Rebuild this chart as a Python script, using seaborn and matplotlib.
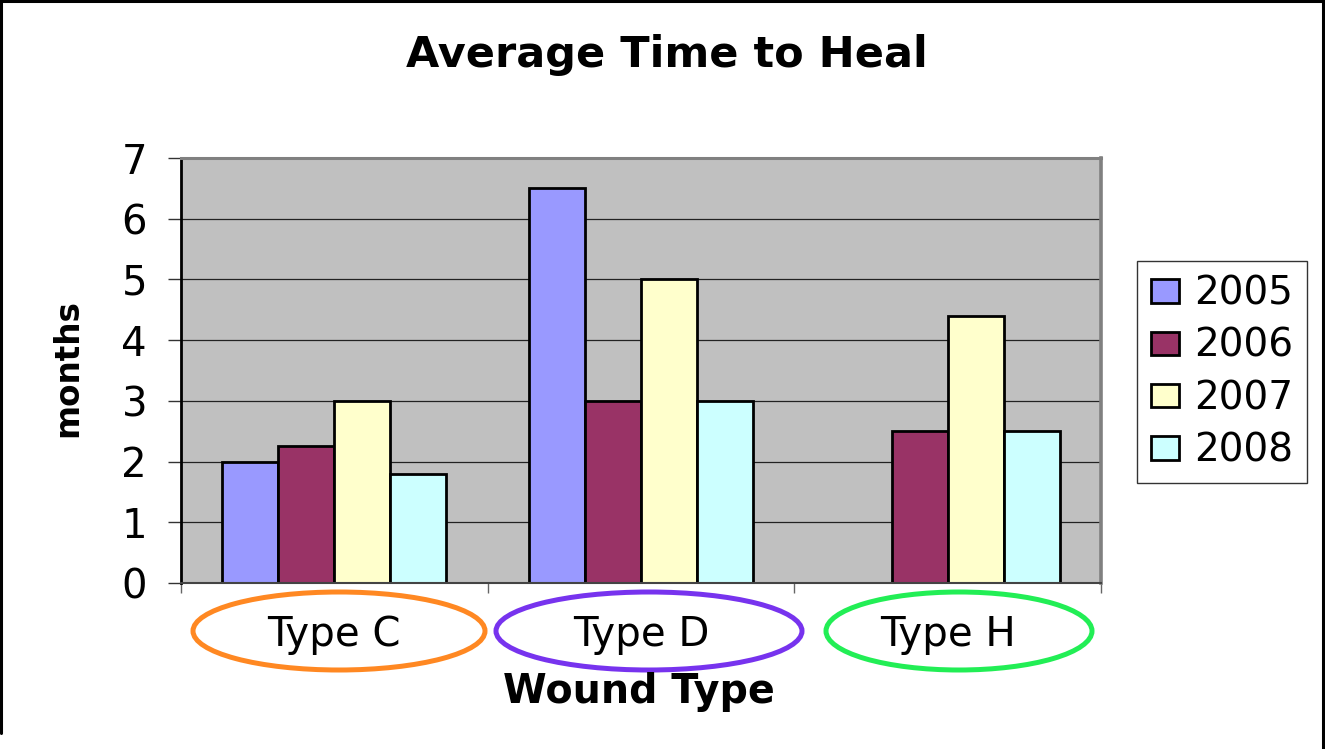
#!/usr/bin/env python3
import numpy as np
import pandas as pd
import matplotlib
matplotlib.use("Agg")
import matplotlib.pyplot as plt
from matplotlib.patches import Ellipse
from matplotlib.lines import Line2D
import seaborn as sns

# chart data
wound_types = ["Type C", "Type D", "Type H"]
years = ["2005", "2006", "2007", "2008"]
heal_2005 = [2.0, 6.5, np.nan]   # no 2005 bar for Type H
heal_2006 = [2.25, 3.0, 2.5]
heal_2007 = [3.0, 5.0, 4.4]
heal_2008 = [1.8, 3.0, 2.5]
year_colors = ["#9999FF", "#993366", "#FFFFCC", "#CCFFFF"]

# circles drawn round the category labels (pixel centre x, width, colour)
label_rings = [(339, 292, "#FF8822"), (649, 306, "#7733EE"), (959, 266, "#22EE55")]

rows = []
for yr, vals in zip(years, [heal_2005, heal_2006, heal_2007, heal_2008]):
    for wt, v in zip(wound_types, vals):
        rows.append({"wound": wt, "year": yr, "months": v})
df = pd.DataFrame(rows).dropna()

W, H = 1325, 749
sns.set_style("white")
plt.rcParams["font.family"] = ["DejaVu Sans"]
plt.rcParams["text.color"] = "black"
plt.rcParams["xtick.color"] = "black"
plt.rcParams["ytick.color"] = "black"
plt.rcParams["xtick.labelcolor"] = "black"
plt.rcParams["ytick.labelcolor"] = "black"

fig = plt.figure(figsize=(W / 100, H / 100), dpi=100)
ax = fig.add_axes([181 / W, 166 / H, 920 / W, 425 / H])
ax.set_facecolor("#C0C0C0")

sns.barplot(data=df, x="wound", y="months", hue="year", order=wound_types,
            hue_order=years, palette=year_colors, width=0.73, saturation=1,
            edgecolor="black", linewidth=2, errorbar=None, ax=ax)

ax.set_xlim(-0.5, 2.5)
ax.set_ylim(0, 7)
ax.set_yticks(range(8))
ax.yaxis.grid(True, color="#222222", linewidth=0.9)
ax.set_axisbelow(True)
ax.set_xlabel("")
ax.set_ylabel("")

ax.tick_params(axis="y", labelsize=29, length=9.4, width=1, color="#333333",
               labelcolor="black", pad=15, left=True, direction="out")
ax.tick_params(axis="x", which="major", labelsize=29, length=0, pad=23,
               labelcolor="black")
ax.set_xticks([-0.5, 0.5, 1.5, 2.5], minor=True)
ax.tick_params(axis="x", which="minor", length=7, width=1, color="#666666",
               bottom=True, direction="out")

ax.spines["left"].set_color("black")
ax.spines["left"].set_linewidth(2)
ax.spines["bottom"].set_color("#444444")
ax.spines["bottom"].set_linewidth(1.5)
ax.spines["top"].set_color("#808080")
ax.spines["top"].set_linewidth(2.2)
ax.spines["right"].set_color("#808080")
ax.spines["right"].set_linewidth(2.6)

handles, labels = ax.get_legend_handles_labels()
leg = ax.legend(handles, labels, loc="upper left",
                bbox_to_anchor=(1137 / W, 1 - 261 / H),
                bbox_transform=fig.transFigure, borderaxespad=0,
                fontsize=28, frameon=True, fancybox=False, edgecolor="black",
                handlelength=0.72, handleheight=0.55, handletextpad=0.4,
                labelspacing=0.37, borderpad=0.35, labelcolor="black")
leg.get_frame().set_linewidth(1)

# titles
fig.text(667 / W, 1 - 67 / H, "Average Time to Heal", ha="center",
         va="baseline", fontsize=31, fontweight="bold", color="black")
fig.text(639 / W, 1 - 703 / H, "Wound Type", ha="center", va="baseline",
         fontsize=28.5, fontweight="bold", color="black")
fig.text(68 / W, 1 - 368 / H, "months", ha="center", va="center",
         rotation=90, fontsize=23.5, fontweight="heavy", color="black")

# coloured rings round the labels
for cx, w, col in label_rings:
    fig.add_artist(Ellipse((cx / W, 1 - 631 / H), w / W, 78 / H,
                           transform=fig.transFigure, fill=False,
                           edgecolor=col, linewidth=3.6))

# outer frame
fig.add_artist(Line2D([0, 1], [1 - 1 / H, 1 - 1 / H], color="black",
                      linewidth=2.2, transform=fig.transFigure))
fig.add_artist(Line2D([1 / W, 1 / W], [1, 1 - 733 / H], color="black",
                      linewidth=2.2, transform=fig.transFigure))
fig.add_artist(Line2D([1 - 2 / W, 1 - 2 / W], [0, 1], color="black",
                      linewidth=2.2, transform=fig.transFigure))

fig.savefig("out.png", dpi=100)
